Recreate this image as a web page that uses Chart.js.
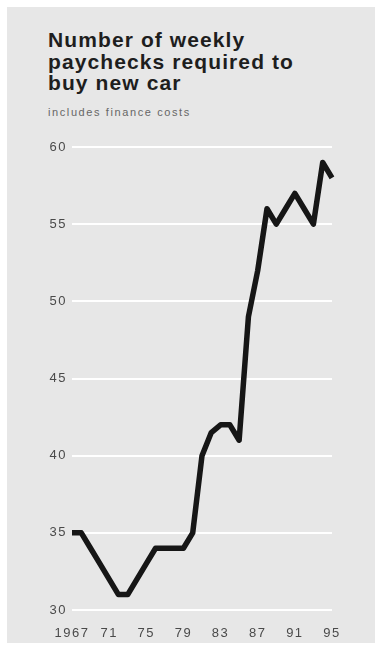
<!DOCTYPE html>
<html>
<head>
<meta charset="utf-8">
<script src="https://cdn.jsdelivr.net/npm/chart.js@4"></script>
<style>
  html, body { margin: 0; padding: 0; background: #fff; }
  body { width: 375px; height: 649px; position: relative; overflow: hidden; font-family: "Liberation Sans", Arial, sans-serif; }
  .panel { position: absolute; left: 7px; top: 7px; right: 0; bottom: 6px; background: #e7e7e7; }
  h1 { position: absolute; left: 48px; top: 29px; margin: 0; font-size: 21px; line-height: 21.5px; font-weight: bold; color: #1e1e1e; letter-spacing: 1.1px; }
  .sub { position: absolute; left: 48px; top: 106px; margin: 0; font-size: 11px; color: #666; letter-spacing: 1.6px; }
  .wrap { position: absolute; left: 0; top: 120px; width: 375px; height: 529px; }
</style>
</head>
<body>
<div class="panel"></div>
<h1>Number of weekly<br>paychecks required to<br>buy new car</h1>
<p class="sub">includes finance costs</p>
<div class="wrap"><canvas id="carChart"></canvas></div>

<script>
// yearly values
const years = ["1967", "1968", "1969", "1970", "1971", "1972", "1973", "1974", "1975", "1976",
    "1977", "1978", "1979", "1980", "1981", "1982", "1983", "1984", "1985", "1986",
    "1987", "1988", "1989", "1990", "1991", "1992", "1993", "1994", "1995"];
const paychecks = [35, 35, 34, 33, 32, 31, 31, 32, 33, 34,
    34, 34, 34, 35, 40, 41.5, 42, 42, 41, 49,
    52, 56, 55, 56, 57, 56, 55, 59, 58];
const xTickLabels = ["1967", "71", "75", "79", "83", "87", "91", "95"];
const yTicks = [30, 35, 40, 45, 50, 55, 60];

document.addEventListener("DOMContentLoaded", function () {

    loadChart();

});

function loadChart() {

    const canvas = document.getElementById("carChart");

    if (!canvas) return;

    const ctx = canvas.getContext("2d");

    const spacing = {
        id: "spacing",
        beforeDraw(chart) {
            chart.ctx.letterSpacing = "1.5px";
        }
    };

    new Chart(ctx, {

        type: "line",

        data: {
            labels: years,
            datasets: [{
                label: "Weekly paychecks",
                data: paychecks,
                borderColor: "#161616",
                borderWidth: 5.5,
                borderJoinStyle: "round",
                pointRadius: 0,
                tension: 0,
                fill: false
            }]
        },

        options: {
            responsive: true,
            maintainAspectRatio: false,
            animation: false,
            layout: { padding: { top: 27, right: 43, bottom: 9, left: 0 } },
            plugins: {
                legend: { display: false },
                tooltip: { enabled: false }
            },
            scales: {
                x: {
                    grid: { display: false },
                    border: { display: false },
                    afterFit: s => { s.height = 30; },
                    ticks: {
                        autoSkip: false,
                        maxRotation: 0,
                        padding: 8,
                        color: "#4a4a4a",
                        font: { family: "Liberation Sans", size: 13 },
                        callback: (v, i) => i % 4 === 0 ? xTickLabels[i / 4] : ""
                    }
                },
                y: {
                    min: yTicks[0],
                    max: yTicks[yTicks.length - 1],
                    grid: { color: "#ffffff", lineWidth: 2, drawTicks: false },
                    border: { display: false },
                    afterFit: s => { s.width = 72; },
                    afterBuildTicks: s => { s.ticks = yTicks.map(v => ({ value: v })); },
                    ticks: {
                        padding: 5,
                        color: "#4a4a4a",
                        font: { family: "Liberation Sans", size: 13 }
                    }
                }
            }
        },

        plugins: [spacing]

    });

}
</script>
</body>
</html>
